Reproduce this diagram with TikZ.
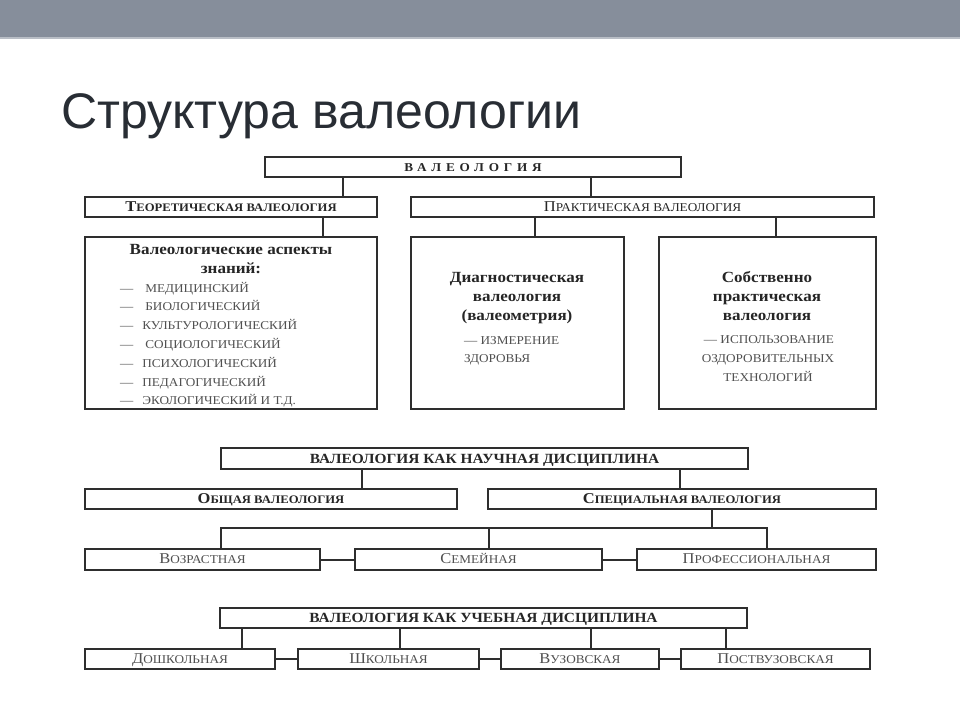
\documentclass[tikz,border=0pt]{standalone}
\usepackage{fontspec}
\setmainfont{Liberation Serif}[FakeStretch=1.1]
\newfontfamily\titlefont{Liberation Sans}
\definecolor{bar}{HTML}{868E9B}
\definecolor{barline}{HTML}{B9BEC6}
\definecolor{ttl}{HTML}{282D34}
\definecolor{ln}{HTML}{2E2E2E}
\definecolor{tx}{HTML}{262626}
\definecolor{tg}{HTML}{505050}
\newcommand\Ini[1]{{\fontsize{15}{15}\selectfont #1}}
\begin{document}
\begin{tikzpicture}[x=1pt,y=-1pt,
  box/.style={draw=ln, line width=1.6pt, fill=white, inner sep=0pt,
    text height=8pt, text depth=0pt},
  sc/.style={font=\fontsize{12}{14}\selectfont, text=tg},
  scb/.style={font=\bfseries\fontsize{11.5}{14}\selectfont, text=tx},
  bc/.style={font=\bfseries\fontsize{14}{16}\selectfont, text=tx, text height=9pt},
  hd/.style={anchor=base, inner sep=0pt, font=\bfseries\fontsize{15.5}{18}\selectfont, text=tx},
  li/.style={anchor=base west, inner sep=0pt, font=\fontsize{12}{14}\selectfont, text=tg},
  lc/.style={anchor=base, inner sep=0pt, font=\fontsize{12}{14}\selectfont, text=tg},
  con/.style={draw=ln, line width=1.1pt},
  conk/.style={draw=ln, line width=2pt}]
\useasboundingbox (0,0) rectangle (960,720);
\fill[white] (0,0) rectangle (960,720);
\fill[bar] (0,0) rectangle (960,37);
\fill[barline] (0,37) rectangle (960,38.5);
\node[anchor=base west, inner sep=0pt, font=\titlefont\fontsize{50}{60}\selectfont, text=ttl] (title) at (61,128) {Структура валеологии};

% ---- section 1
\node[box, minimum width=416pt, minimum height=20pt, font=\bfseries\fontsize{12}{14}\selectfont\addfontfeature{LetterSpace=40}, text=tx] (val) at (473,167) {ВАЛЕОЛОГИЯ};
\node[box, scb, minimum width=292pt, minimum height=20pt] (teor) at (231,207) {\Ini{Т}ЕОРЕТИЧЕСКАЯ ВАЛЕОЛОГИЯ};
\node[box, sc, text=tx, minimum width=463pt, minimum height=20pt] (prak) at (642.5,207) {\Ini{П}РАКТИЧЕСКАЯ ВАЛЕОЛОГИЯ};
\node[box, minimum width=292pt, minimum height=172pt] (asp) at (231,323) {};
\node[box, minimum width=213pt, minimum height=172pt] (diag) at (517.5,323) {};
\node[box, minimum width=217pt, minimum height=172pt] (sob) at (767.5,323) {};

\draw[conk] (343,0 |- val.south) -- (343,0 |- teor.north);
\draw[con] (591,0 |- val.south) -- (591,0 |- prak.north);
\draw[con] (323,0 |- teor.south) -- (323,0 |- asp.north);
\draw[con] (535,0 |- prak.south) -- (535,0 |- diag.north);
\draw[conk] (776,0 |- prak.south) -- (776,0 |- sob.north);

\node[hd] (a1) at (231,254) {Валеологические аспекты};
\node[hd] (a2) at (231,273) {знаний:};
\node[li] (l1) at (120,292) {—\hspace{12pt}МЕДИЦИНСКИЙ};
\node[li] (l2) at (120,310.5) {—\hspace{12pt}БИОЛОГИЧЕСКИЙ};
\node[li] (l3) at (120,329) {—\hspace{9pt}КУЛЬТУРОЛОГИЧЕСКИЙ};
\node[li] (l4) at (120,348) {—\hspace{12pt}СОЦИОЛОГИЧЕСКИЙ};
\node[li] (l5) at (120,367) {—\hspace{9pt}ПСИХОЛОГИЧЕСКИЙ};
\node[li] (l6) at (120,386) {—\hspace{9pt}ПЕДАГОГИЧЕСКИЙ};
\node[li] (l7) at (120,404) {—\hspace{9pt}ЭКОЛОГИЧЕСКИЙ И Т.Д.};

\node[hd] (d1) at (517,282) {Диагностическая};
\node[hd] (d2) at (517,301) {валеология};
\node[hd] (d3) at (517,320) {(валеометрия)};
\node[li] (d4) at (464,344) {— ИЗМЕРЕНИЕ};
\node[li] (d5) at (464,362) {ЗДОРОВЬЯ};

\node[hd] (s1) at (767,282) {Собственно};
\node[hd] (s2) at (767,301) {практическая};
\node[hd] (s3) at (767,320) {валеология};
\node[lc] (s4) at (769,343) {— ИСПОЛЬЗОВАНИЕ};
\node[lc] (s5) at (768,362) {ОЗДОРОВИТЕЛЬНЫХ};
\node[lc] (s6) at (768,381) {ТЕХНОЛОГИЙ};

% ---- section 2
\node[box, bc, minimum width=527pt, minimum height=21pt] (nauch) at (484.5,458.5) {ВАЛЕОЛОГИЯ КАК НАУЧНАЯ ДИСЦИПЛИНА};
\node[box, scb, minimum width=372pt, minimum height=20pt] (obsh) at (271,499) {\Ini{О}БЩАЯ ВАЛЕОЛОГИЯ};
\node[box, scb, minimum width=388pt, minimum height=20pt] (spec) at (682,499) {\Ini{С}ПЕЦИАЛЬНАЯ ВАЛЕОЛОГИЯ};
\node[box, sc, minimum width=235pt, minimum height=21pt] (vozr) at (202.5,559.5) {\Ini{В}ОЗРАСТНАЯ};
\node[box, sc, minimum width=247pt, minimum height=21pt] (sem) at (478.5,559.5) {\Ini{С}ЕМЕЙНАЯ};
\node[box, sc, minimum width=239pt, minimum height=21pt] (prof) at (756.5,559.5) {\Ini{П}РОФЕССИОНАЛЬНАЯ};

\coordinate (busL) at (221,528);
\coordinate (busR) at (767,528);
\draw[con] (362,0 |- nauch.south) -- (362,0 |- obsh.north);
\draw[con] (680,0 |- nauch.south) -- (680,0 |- spec.north);
\draw[con] (712,0 |- spec.south) -- (712,0 |- busL);
\draw[conk] (vozr.north -| busL) -- (busL) -- (busR) -- (prof.north -| busR);
\draw[conk] (489,0 |- busL) -- (489,0 |- sem.north);
\draw[conk] (vozr.east) -- (sem.west);
\draw[conk] (sem.east) -- (prof.west);

% ---- section 3
\node[box, bc, minimum width=527pt, minimum height=20pt] (uch) at (483.5,618) {ВАЛЕОЛОГИЯ КАК УЧЕБНАЯ ДИСЦИПЛИНА};
\node[box, sc, minimum width=190pt, minimum height=20pt] (dosh) at (180,659) {\Ini{Д}ОШКОЛЬНАЯ};
\node[box, sc, minimum width=181pt, minimum height=20pt] (shk) at (388.5,659) {\Ini{Ш}КОЛЬНАЯ};
\node[box, sc, minimum width=158pt, minimum height=20pt] (vuz) at (580,659) {\Ini{В}УЗОВСКАЯ};
\node[box, sc, minimum width=189pt, minimum height=20pt] (post) at (775.5,659) {\Ini{П}ОСТВУЗОВСКАЯ};

\draw[conk] (242,0 |- uch.south) -- (242,0 |- dosh.north);
\draw[conk] (400,0 |- uch.south) -- (400,0 |- shk.north);
\draw[con] (591,0 |- uch.south) -- (591,0 |- vuz.north);
\draw[conk] (726,0 |- uch.south) -- (726,0 |- post.north);
\draw[conk] (dosh.east) -- (shk.west);
\draw[conk] (shk.east) -- (vuz.west);
\draw[conk] (vuz.east) -- (post.west);
\end{tikzpicture}
\end{document}
